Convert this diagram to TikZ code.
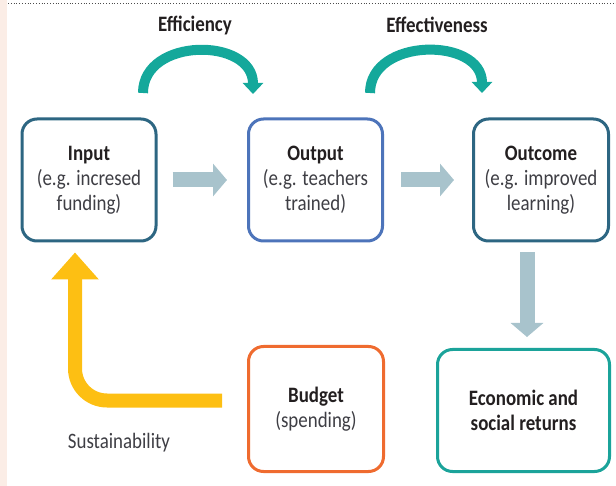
\documentclass[tikz,border=0pt]{standalone}
\usepackage{fontspec}
\setmainfont{Carlito}[FakeStretch=0.86]
\usetikzlibrary{arrows.meta,positioning}
\definecolor{inkdark}{HTML}{231F20}
\definecolor{inkgray}{HTML}{3E3E44}
\definecolor{frameteal}{HTML}{2D6682}
\definecolor{frameblue}{HTML}{4D74BA}
\definecolor{frameorange}{HTML}{EF6B2F}
\definecolor{framegreen}{HTML}{1BA39A}
\definecolor{arcteal}{HTML}{14A89B}
\definecolor{flowgray}{HTML}{A8C3CC}
\definecolor{sustyellow}{HTML}{FDBF13}
\definecolor{stripbg}{HTML}{FBEDE6}

\begin{document}
\begin{tikzpicture}[x=1pt, y=-1pt, thick,
		box/.style={draw, rounded corners=15pt, line width=3pt, fill=white, align=center,
			inner sep=0pt, text=inkgray, font=\fontsize{22}{25}\selectfont},
		lbl/.style={text=inkdark, font=\fontsize{22}{25}\selectfont\bfseries},
		flowarrow/.style={draw=flowgray, line width=15pt, -{Triangle[width=32pt,length=14pt]}},
		arcarrow/.style={draw=arcteal, line width=10pt, -{Triangle[width=20pt,length=11pt]}},
		sustarrow/.style={draw=sustyellow, line width=14pt, rounded corners=32pt, -{Triangle[width=46pt,length=27pt]}}]
	\useasboundingbox (0,0) rectangle (616,486);
	
	% 1. page edge strip and dotted rule
	\fill[stripbg] (0,0) rectangle (7,486);
	\draw[dotted, line width=0.8pt, gray!60!black] (8,3) -- (616,3);
	
	% 2. chain boxes
	\node[box, draw=frameteal, minimum width=134pt, minimum height=122pt] (input) at (89,180)
		{{\bfseries\color{inkdark}Input}\\(e.g. incresed\\funding)};
	\node[box, draw=frameblue, minimum width=134pt, minimum height=122pt] (output) at (315.5,180)
		{{\bfseries\color{inkdark}Output}\\(e.g. teachers\\trained)};
	\node[box, draw=frameteal, minimum width=135pt, minimum height=122pt] (outcome) at (541,180)
		{{\bfseries\color{inkdark}Outcome}\\(e.g. improved\\learning)};
	\node[box, draw=frameorange, minimum width=135pt, minimum height=125pt] (budget) at (316,409)
		{{\bfseries\color{inkdark}Budget}\\(spending)};
	\node[box, draw=framegreen, minimum width=172pt, minimum height=122pt, text=inkdark] (returns) at (523.5,410.5)
		{\bfseries Economic and\\\bfseries social returns};
	
	% 3. flow arrows between boxes
	\draw[flowarrow] ([xshift=15pt]input.east) -- ([xshift=-20pt]output.west);
	\draw[flowarrow] ([xshift=17pt]output.east) -- ([xshift=-18pt]outcome.west);
	\draw[flowarrow] ([xshift=-14pt,yshift=-10pt]outcome.south) -- ([xshift=3.5pt,yshift=11pt]returns.north);
	
	% 4. curved arrows over the chain
	\coordinate (effS) at (143,93);
	\coordinate (effE) at (253,94);
	\coordinate (efvS) at (370,93);
	\coordinate (efvE) at (482,93);
	\draw[arcarrow] (effS) .. controls (143,37) and (253,37) .. (effE);
	\draw[arcarrow] (efvS) .. controls (370,37) and (482,37) .. (efvE);
	\node[lbl] (efficiency) at (195,25) {Efficiency};
	\node[lbl] (effectiveness) at (437,25) {Effectiveness};
	
	% 5. feedback from budget back to input
	\draw[sustarrow] ([xshift=-25pt,yshift=8.5pt]budget.west) -| ([xshift=-14pt,yshift=-10pt]input.south);
	\node[text=inkgray, font=\fontsize{22}{25}\selectfont] (sustain) at (119,443) {Sustainability};
\end{tikzpicture}
\end{document}
